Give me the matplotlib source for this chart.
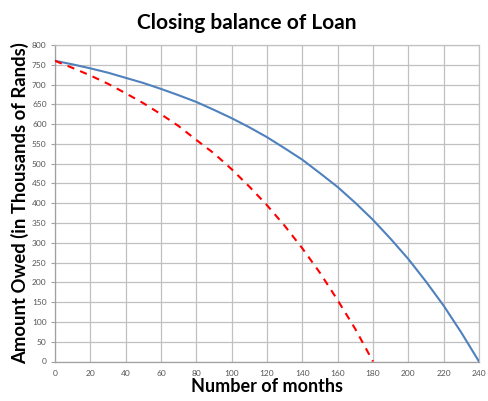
import matplotlib
matplotlib.use("Agg")
import matplotlib.pyplot as plt

# Closing balance (thousands of Rands) read every 10 months
months_20yr = [0, 10, 20, 30, 40, 50, 60, 70, 80, 90, 100, 110, 120,
               130, 140, 150, 160, 170, 180, 190, 200, 210, 220, 230, 240]
balance_20yr = [760, 751, 741, 730, 717, 704, 689, 673, 656, 636, 615, 592, 567,
                539, 510, 476, 441, 401, 358, 310, 259, 202, 141, 73, 0]

months_15yr = [0, 10, 20, 30, 40, 50, 60, 70, 80, 90, 100, 110, 120,
               130, 140, 150, 160, 170, 180]
balance_15yr = [760, 742, 723, 702, 678, 653, 625, 595, 560, 526, 486, 442, 395,
                343, 286, 224, 155, 82, 0]

x_ticks = list(range(0, 241, 20))
y_ticks = list(range(0, 801, 50))

plt.rcParams['font.family'] = ['Lato', 'DejaVu Sans']

fig = plt.figure(figsize=(4.89, 4.01), dpi=100)
ax = fig.add_axes([55 / 489, 1 - 361.5 / 401, 424 / 489, 316.5 / 401])

ax.plot(months_20yr, balance_20yr, color='#4f81bd', lw=1.5, zorder=3)
ax.plot(months_15yr, balance_15yr, color='#ff0000', lw=1.5,
        linestyle=(0, (3.5, 3)), zorder=3)

ax.set_xlim(0, 240)
ax.set_ylim(0, 800)
ax.set_xticks(x_ticks)
ax.set_yticks(y_ticks)
ax.grid(True, color='#c0c0c0', lw=0.9)
ax.set_axisbelow(True)

for side in ['top', 'right']:
    ax.spines[side].set_color('#c0c0c0')
    ax.spines[side].set_linewidth(0.9)
for side in ['left', 'bottom']:
    ax.spines[side].set_color('#a0a0a0')
    ax.spines[side].set_linewidth(0.9)

ax.tick_params(axis='y', length=3, width=0.8, color='#a0a0a0',
               labelsize=6, labelcolor='#555555', pad=3)
ax.tick_params(axis='x', length=0, labelsize=6, labelcolor='#555555', pad=6)

fig.text(0.505, 1 - 23 / 401, 'Closing balance of Loan', ha='center', va='center',
         fontsize=15, fontweight='bold')
ax.set_xlabel('Number of months', fontsize=13, fontweight='bold', labelpad=1)
ax.set_ylabel('Amount Owed (in Thousands of Rands)', fontsize=13.3,
              fontweight='bold', labelpad=2)

fig.savefig('out.png', dpi=100)
